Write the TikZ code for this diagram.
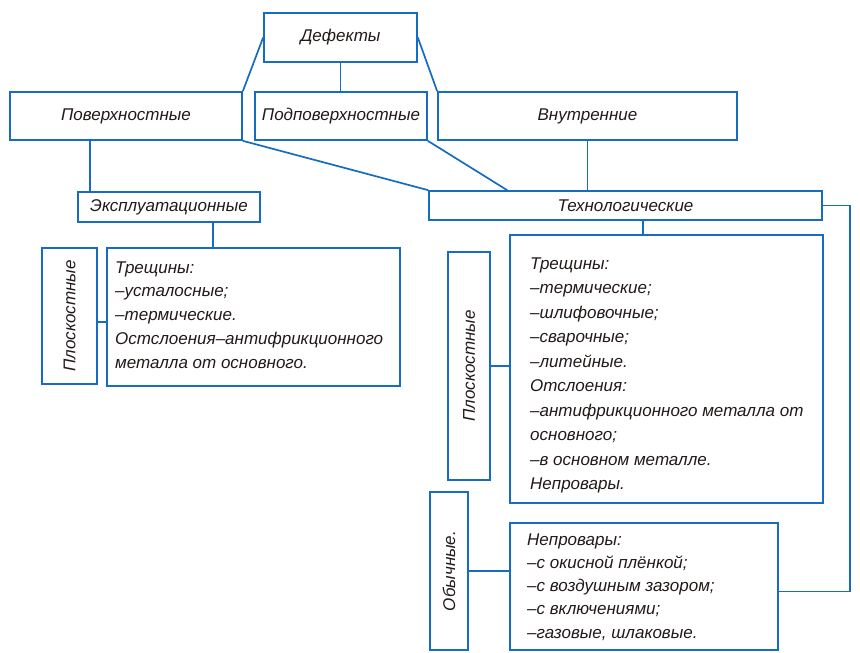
\documentclass[tikz,border=0pt]{standalone}
\usepackage{fontspec}
\setmainfont{Liberation Sans}
\usetikzlibrary{calc}
\definecolor{lineblue}{RGB}{22,108,192}
\definecolor{inkcol}{RGB}{35,25,25}
\begin{document}
\begin{tikzpicture}[x=1pt,y=-1pt,
  box/.style={draw=lineblue, line width=1.7pt, inner sep=0pt, text=inkcol,
    font=\fontsize{17}{22}\selectfont\itshape},
  conn/.style={draw=lineblue, line width=1.7pt},
  txt/.style={inner sep=0pt, anchor=north west, align=left, text=inkcol}]
\useasboundingbox (0,0) rectangle (860,653);
\fill[white] (0,0) rectangle (860,653);
% top level
\node[box, minimum width=153pt, minimum height=49pt] (def) at (340.5,37.5) {Дефекты};
\node[box, minimum width=232pt, minimum height=48pt] (pov) at (126,116) {Поверхностные};
\node[box, minimum width=172pt, minimum height=48pt] (podpov) at (341,116) {Подповерхностные};
\node[box, minimum width=299pt, minimum height=48pt] (vnutr) at (587.5,116) {Внутренние};
\node[box, minimum width=393pt, minimum height=29pt] (tech) at (625.5,205.5) {Технологические};
\node[box, minimum width=182pt, minimum height=30pt] (expl) at (169,207) {Эксплуатационные};
% left branch
\node[box, minimum width=55pt, minimum height=136pt] (lplosk) at (69.5,316) {\rotatebox{90}{Плоскостные}};
\node[box, minimum width=293pt, minimum height=138pt] (ltext) at (253.5,317) {};
\node[txt, font=\fontsize{17}{23.75}\selectfont\itshape] (ltextt) at (115,261.3)
  {Трещины:\\–усталосные;\\–термические.\\Остслоения–антифрикционного\\металла от основного.};
% right branch
\node[box, minimum width=42pt, minimum height=228pt] (rplosk) at (469,366) {\rotatebox{90}{Плоскостные}};
\node[box, minimum width=313pt, minimum height=268pt] (rtext) at (666.5,369) {};
\node[txt, font=\fontsize{17}{24.5}\selectfont\itshape] (rtextt) at (530,257.3)
  {Трещины:\\–термические;\\–шлифовочные;\\–сварочные;\\–литейные.\\Отслоения:\\–антифрикционного металла от\\основного;\\–в основном металле.\\Непровары.};
\node[box, minimum width=38pt, minimum height=158pt] (obych) at (449,571) {\rotatebox{90}{Обычные.}};
\node[box, minimum width=268pt, minimum height=127pt] (nepr) at (644,586.5) {};
\node[txt, font=\fontsize{17}{23.25}\selectfont\itshape] (neprt) at (527,533.3)
  {Непровары:\\–с окисной плёнкой;\\–с воздушным зазором;\\–с включениями;\\–газовые, шлаковые.};
% connectors
\draw[conn] (def.west) -- (pov.north east);
\draw[conn] (def.south) -- (def.south |- podpov.north);
\draw[conn] (def.east) -- (vnutr.north west);
\draw[conn] (pov.south east) -- (tech.north west);
\draw[conn] (podpov.south east) -- ($(tech.north west)+(79,0)$);
\draw[conn] (vnutr.south) -- (vnutr.south |- tech.north);
\draw[conn] (tech.east) -- ++(27,0) |- ([yshift=-5pt]nepr.east);
\draw[conn] ([xshift=17.5pt]tech.south) -- ([xshift=17.5pt]tech.south |- rtext.north);
\draw[conn] ([xshift=-36pt]pov.south) -- ([xshift=-36pt]pov.south |- expl.north);
\draw[conn] ([xshift=44pt]expl.south) -- ([xshift=44pt]expl.south |- ltext.north);
\draw[conn] ([yshift=-6pt]lplosk.east) -- ([yshift=-6pt]lplosk.east -| ltext.west);
\draw[conn] (rplosk.east) -- (rplosk.east -| rtext.west);
\draw[conn] (obych.east) -- (obych.east -| nepr.west);
\end{tikzpicture}
\end{document}
